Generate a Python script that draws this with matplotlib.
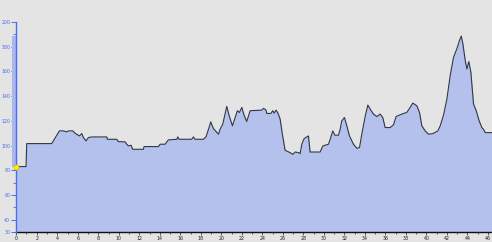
import matplotlib
matplotlib.use("Agg")
import matplotlib.pyplot as plt
from matplotlib.ticker import MultipleLocator

distance_km = [0, 0.96, 1.02, 1.28, 3.46, 4.21, 4.60, 4.92, 5.09, 5.51, 5.74, 6.16, 6.39, 6.55, 6.81,
               7.04, 7.36, 8.83, 8.89, 9.80, 9.96, 10.62, 10.78, 10.94, 11.20, 11.36, 12.40, 12.47,
               13.87, 14.03, 14.52, 14.84, 15.66, 15.75, 15.88, 17.12, 17.28, 17.44, 18.26, 18.52,
               18.75, 18.97, 19.23, 19.72, 19.88, 20.14, 20.53, 20.79, 21.09, 21.35, 21.57, 21.77,
               22.00, 22.22, 22.48, 22.81, 23.95, 24.11, 24.34, 24.44, 24.83, 25.02, 25.15, 25.35,
               25.54, 25.74, 25.93, 26.22, 26.71, 26.97, 27.20, 27.53, 27.69, 27.85, 28.08, 28.50,
               28.66, 29.64, 29.90, 30.45, 30.62, 30.87, 31.07, 31.43, 31.59, 31.75, 32.01, 32.24,
               32.50, 32.89, 33.22, 33.48, 33.70, 34.03, 34.29, 34.52, 34.84, 35.17, 35.49, 35.75,
               35.98, 36.47, 36.79, 37.05, 37.61, 38.09, 38.42, 38.68, 39.07, 39.33, 39.56, 39.88,
               40.21, 40.63, 41.12, 41.35, 41.67, 42.00, 42.32, 42.65, 42.97, 43.23, 43.40, 43.56,
               43.79, 43.95, 44.14, 44.34, 44.60, 44.86, 45.15, 45.41, 45.57, 45.74, 46.39]
elevation_m = [83.0, 83.0, 101.6, 101.6, 101.6, 111.9, 111.9, 111.1, 111.9, 111.9, 110.0, 107.8, 109.7,
               106.5, 103.8, 106.5, 107.0, 107.0, 105.1, 105.1, 103.2, 103.0, 101.1, 99.7, 100.3, 97.0,
               97.0, 99.2, 99.2, 101.1, 101.1, 104.6, 105.1, 107.0, 105.1, 105.1, 107.0, 105.1, 105.1,
               107.3, 113.2, 119.2, 113.8, 109.2, 113.2, 117.3, 131.7, 123.5, 116.0, 122.7, 128.2,
               126.8, 130.9, 124.6, 119.5, 128.2, 128.7, 130.1, 129.0, 126.0, 126.0, 128.2, 126.3,
               128.7, 126.0, 121.4, 110.5, 96.2, 94.3, 92.9, 94.8, 94.3, 93.5, 101.1, 105.7, 107.8,
               94.8, 94.8, 99.7, 101.1, 105.1, 111.9, 108.4, 108.4, 113.2, 120.0, 122.7, 116.0, 107.8,
               101.1, 97.8, 98.4, 109.2, 123.5, 132.8, 129.5, 125.5, 123.5, 125.5, 122.7, 114.6, 114.6,
               116.8, 123.5, 125.5, 126.8, 130.9, 134.4, 132.2, 126.8, 116.0, 111.9, 109.2, 109.7,
               111.9, 116.0, 124.6, 137.6, 156.6, 171.5, 178.3, 185.1, 188.6, 182.4, 168.8, 162.0,
               168.0, 159.3, 133.6, 128.2, 120.0, 114.6, 113.2, 110.5, 110.5]

y_ticks = [30, 40, 60, 80, 100, 120, 140, 160, 180, 200]
x_ticks = list(range(0, 47, 2))

bg = "#e4e4e4"
fig = plt.figure(figsize=(4.92, 2.42), dpi=100, facecolor=bg)
ax = fig.add_axes([0.033, 0.041, 0.967, 0.868], facecolor=bg)

ax.fill_between(distance_km, elevation_m, 30, color="#b4c1ec", lw=0, zorder=2)
ax.plot(distance_km, elevation_m, color="#2f3645", lw=0.8, zorder=3)

# range band beside y axis (start -> max)
start, top = elevation_m[0], max(elevation_m)
ax.bar(-0.2, top - start, bottom=start, width=0.36, color="#a9b8ec",
       clip_on=False, zorder=2.5, linewidth=0)
ax.scatter([distance_km[0]], [elevation_m[0]], s=14, color="#ffee00", edgecolor="#c8b400",
           linewidth=0.4, zorder=5, clip_on=False)

ax.set_xlim(0, 46.4)
ax.set_ylim(30, 200)

for s in ["top", "right"]:
    ax.spines[s].set_visible(False)
ax.spines["left"].set_color("#4a6cf0")
ax.spines["left"].set_linewidth(1.0)
ax.spines["left"].set_zorder(4)
ax.spines["bottom"].set_color("#111111")
ax.spines["bottom"].set_linewidth(1.0)

ax.set_yticks(y_ticks)
ax.set_yticklabels([str(v) for v in y_ticks])
ax.yaxis.set_minor_locator(MultipleLocator(10))
ax.tick_params(axis="y", which="major", length=3.5, width=0.7, colors="#4a6cf0",
               labelsize=3.4, pad=0.8)
ax.tick_params(axis="y", which="minor", length=2.2, width=0.6, colors="#4a6cf0")

ax.set_xticks(x_ticks)
ax.set_xticklabels([str(v) for v in x_ticks])
ax.xaxis.set_minor_locator(MultipleLocator(1))
ax.tick_params(axis="x", which="major", length=2.0, width=0.5, colors="#222222",
               labelsize=3.4, pad=0.8)
ax.tick_params(axis="x", which="minor", length=1.5, width=0.5, colors="#222222")

fig.savefig("out.png", dpi=100, facecolor=bg)
